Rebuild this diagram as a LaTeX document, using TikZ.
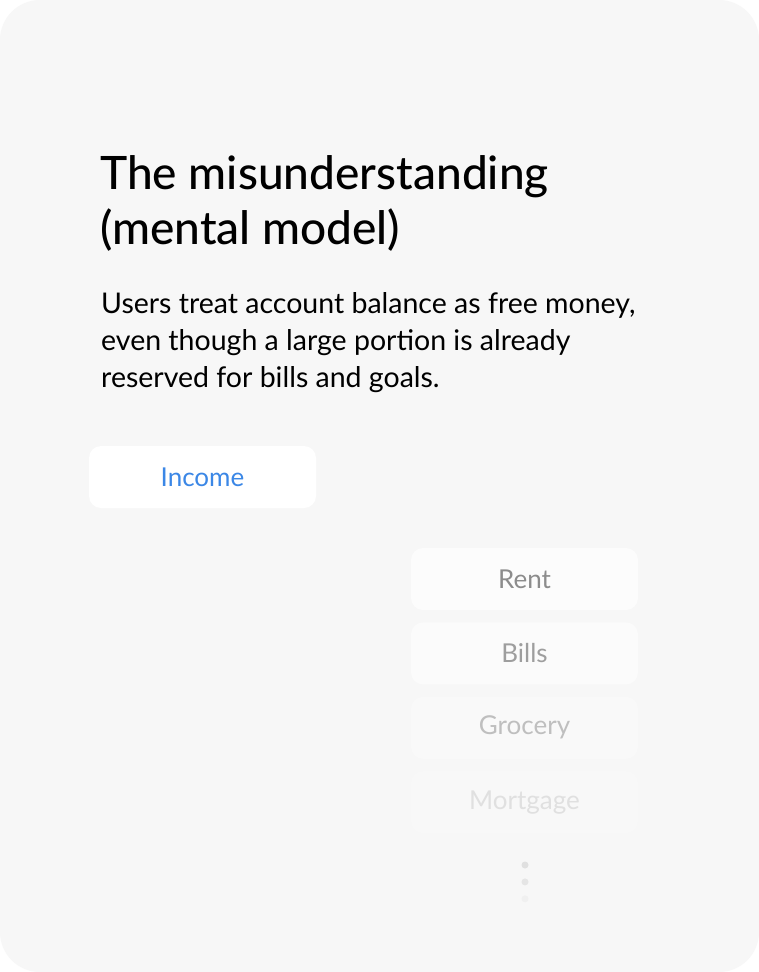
\documentclass[tikz,border=0pt]{standalone}
\usepackage{fontspec}
\setmainfont{Lato}
\newfontfamily\headfont{Lato Medium}
\usepackage{xcolor}
\usetikzlibrary{positioning}

\definecolor{cardbg}{HTML}{F7F7F7}
\definecolor{incomeblue}{HTML}{3B87E6}

\begin{document}
\begin{tikzpicture}[
    x=1pt, y=-1pt,
    card/.style={fill=cardbg, rounded corners=40pt},
    pill/.style={fill=white, rounded corners=12pt, minimum width=227pt, minimum height=62pt, inner sep=0pt, font=\fontsize{26}{30}\selectfont},
    bucket/.style={pill, text=#1},
    dotmark/.style={circle, inner sep=0pt, minimum size=7pt},
    ]
    \fill[white] (0,0) rectangle (759,972);
    \useasboundingbox (0,0) rectangle (759,972);
    \fill[card] (0,0) rectangle (759,972);

    % heading and text (base = last line)
    \node[anchor=base west, align=left, inner sep=0pt, font=\headfont\fontsize{46}{55}\selectfont] (title) at (100,244)
        {The misunderstanding\\(mental model)};
    \node[anchor=base west, align=left, inner sep=0pt, font=\fontsize{28.5}{37}\selectfont] (body) at (101,387)
        {Users treat account balance as free money,\\even though a large portion is already\\reserved for bills and goals.};

    % income
    \node[pill, text=incomeblue] (income) at (202.5,477) {Income};

    % buckets fade out
    \node[bucket=black!45, fill=white!60!cardbg] (rent) at (524.5,579) {Rent};
    \node[bucket=black!38, fill=white!45!cardbg, below=12pt of rent] (bills) {Bills};
    \node[bucket=black!25, fill=white!25!cardbg, below=12pt of bills] (grocery) {Grocery};
    \node[bucket=black!12, fill=white!12!cardbg, below=12pt of grocery] (mortgage) {Mortgage};

    \node[dotmark, fill=black!12] (dota) at (525,865) {};
    \node[dotmark, fill=black!10, below=9.5pt of dota] (dotb) {};
    \node[dotmark, fill=black!6, below=9.5pt of dotb] (dotc) {};
\end{tikzpicture}
\end{document}
